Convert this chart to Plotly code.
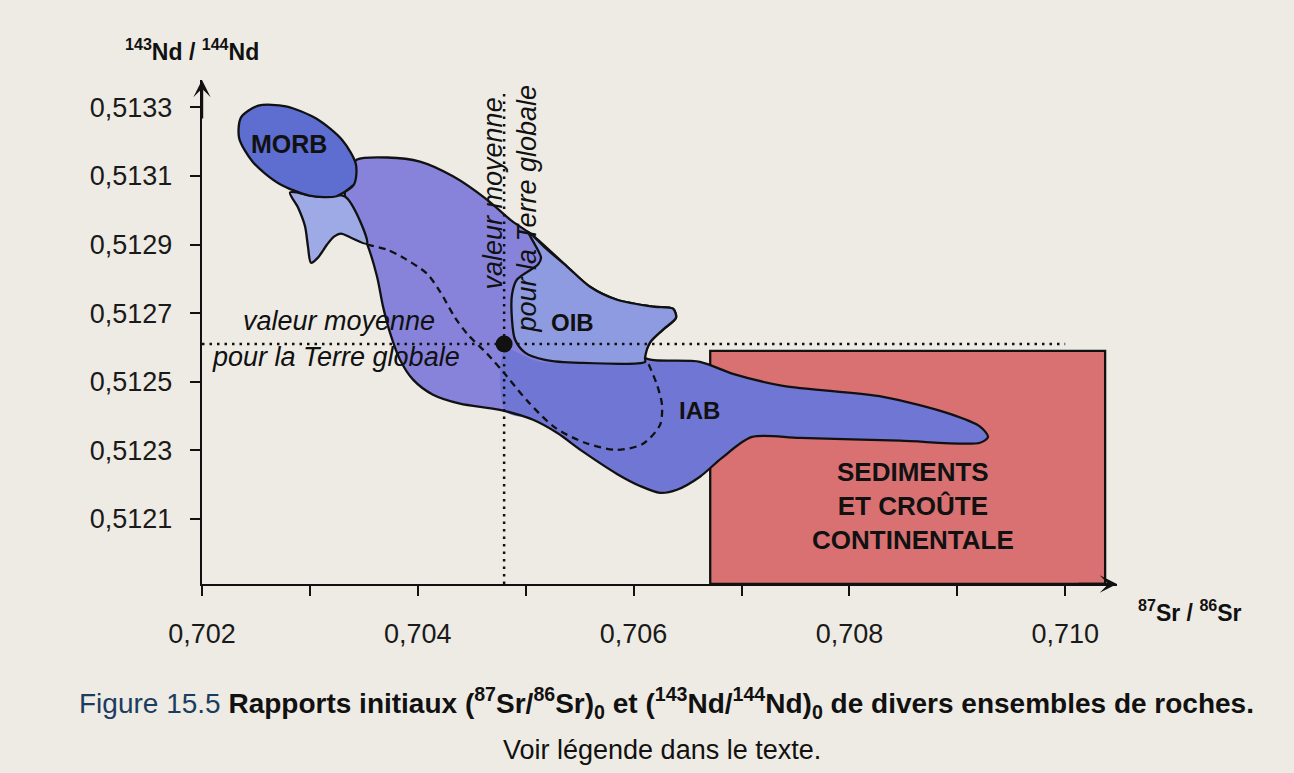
import plotly.graph_objects as go

# ---------------- data ----------------
x_tick_vals = [0.702, 0.704, 0.706, 0.708, 0.710]
x_tick_text = ["0,702", "0,704", "0,706", "0,708", "0,710"]
x_minor_step = 0.001
y_tick_vals = [0.5121, 0.5123, 0.5125, 0.5127, 0.5129, 0.5131, 0.5133]
y_tick_text = ["0,5121", "0,5123", "0,5125", "0,5127", "0,5129", "0,5131", "0,5133"]

x_range = [0.702, 0.71048]
y_range = [0.51191, 0.51338]

bulk_earth_sr = 0.7048
bulk_earth_nd = 0.51261
bulk_v_top = 0.51334
bulk_h_right = 0.7100

sed_sr = [0.70671, 0.71037]
sed_nd = [0.51191, 0.51259]

morb_sr = [0.703408, 0.703248, 0.702994, 0.702708, 0.702471, 0.702344, 0.702362,
           0.702522, 0.702777, 0.703062, 0.703299, 0.703426, 0.703408, 0.703248]
morb_nd = [0.513075, 0.513041, 0.513043, 0.513079, 0.513141, 0.513211, 0.513271,
           0.513305, 0.513303, 0.513267, 0.513205, 0.513135, 0.513075, 0.513041]

tail_sr = [0.702816, 0.702890, 0.702955, 0.702982, 0.703010, 0.703075, 0.703159,
           0.703223, 0.703288, 0.703381, 0.703529, 0.703325, 0.703075, 0.702816]
tail_nd = [0.513052, 0.513008, 0.512953, 0.512894, 0.512847, 0.512862, 0.512900,
           0.512923, 0.512932, 0.512920, 0.512903, 0.513040, 0.513040, 0.513052]

mantle_sr = [0.703325, 0.703372, 0.703437, 0.703715, 0.704020, 0.704326, 0.704641, 0.704855,
             0.705068, 0.705383, 0.705596, 0.705846, 0.706180, 0.706365, 0.706393, 0.706273,
             0.706152, 0.706106, 0.706615, 0.706921, 0.707385, 0.708312, 0.708932, 0.709211,
             0.709285, 0.709211, 0.708469, 0.707542, 0.707097, 0.706819, 0.706615, 0.706402,
             0.706245, 0.706059, 0.705846, 0.705531, 0.705290, 0.705068, 0.704762, 0.704391,
             0.704141, 0.703956, 0.703835, 0.703742, 0.703678, 0.703622, 0.703529, 0.703325]
mantle_nd = [0.513040, 0.513119, 0.513148, 0.513154, 0.513142, 0.513099, 0.513031, 0.512973,
             0.512926, 0.512836, 0.512777, 0.512739, 0.512719, 0.512713, 0.512687, 0.512652,
             0.512614, 0.512570, 0.512558, 0.512523, 0.512488, 0.512456, 0.512406, 0.512369,
             0.512339, 0.512322, 0.512328, 0.512336, 0.512339, 0.512278, 0.512223, 0.512185,
             0.512176, 0.512196, 0.512231, 0.512296, 0.512351, 0.512389, 0.512418, 0.512436,
             0.512462, 0.512506, 0.512564, 0.512643, 0.512719, 0.512807, 0.512903, 0.513040]

oib_sr = [0.705021, 0.705142, 0.705114, 0.704919, 0.704873, 0.704873, 0.704901, 0.704994,
          0.705179, 0.705503, 0.706106, 0.706106, 0.706152, 0.706273, 0.706393, 0.706365,
          0.706180, 0.705846, 0.705596, 0.705383, 0.705179, 0.705021]
oib_nd = [0.512938, 0.512862, 0.512842, 0.512798, 0.512754, 0.512681, 0.512623, 0.512585,
          0.512564, 0.512555, 0.512558, 0.512570, 0.512614, 0.512652, 0.512687, 0.512713,
          0.512719, 0.512739, 0.512777, 0.512836, 0.512891, 0.512938]

iab_start_sr = [0.704808, 0.705133, 0.706106]
iab_start_nd = [0.512593, 0.512558, 0.512558]
iab_end_sr = [0.704808, 0.704808]
iab_end_nd = [0.512415, 0.512593]

trend_sr = [0.703529, 0.703715, 0.703881, 0.704085, 0.704206, 0.704345, 0.704465, 0.704641, 0.704790,
            0.705021, 0.705272, 0.705550, 0.705846, 0.706087, 0.706245, 0.706263, 0.706217, 0.706134]
trend_nd = [0.512900, 0.512885, 0.512859, 0.512815, 0.512763, 0.512687, 0.512637, 0.512582, 0.512529,
            0.512442, 0.512366, 0.512322, 0.512301, 0.512319, 0.512374, 0.512433, 0.512491, 0.512555]

# ---------------- styles ----------------
BG = "#eeebe4"
INK = "#111111"
OUT_W = 2.3
FONT = "Liberation Sans, Arial, Helvetica, sans-serif"
CAP_FONT = "Liberation Sans, Arial, sans-serif"

iab_sr = iab_start_sr + mantle_sr[18:38] + iab_end_sr
iab_nd = iab_start_nd + mantle_nd[18:38] + iab_end_nd

fig = go.Figure()

def poly(x, y, fill=None, line_w=0, line_color=INK):
    fig.add_trace(go.Scatter(
        x=x, y=y, mode="lines", hoverinfo="skip",
        fill="toself" if fill else "none",
        fillcolor=fill if fill else None,
        line=dict(color=line_color if line_w else "rgba(0,0,0,0)", width=line_w if line_w else 0.1,
                  shape="spline", smoothing=0.8),
        showlegend=False))

# sediments rectangle
fig.add_trace(go.Scatter(
    x=[sed_sr[0], sed_sr[1], sed_sr[1], sed_sr[0], sed_sr[0]],
    y=[sed_nd[0], sed_nd[0], sed_nd[1], sed_nd[1], sed_nd[0]],
    mode="lines", fill="toself", fillcolor="#d97173",
    line=dict(color=INK, width=OUT_W), hoverinfo="skip", showlegend=False))

# mantle array (fill), IAB overlay, then outline
poly(mantle_sr, mantle_nd, fill="#8783db")
poly(iab_sr, iab_nd, fill="#7076d3")
poly(mantle_sr, mantle_nd, line_w=OUT_W)
# MORB tail
poly(tail_sr, tail_nd, fill="#9eaae6", line_w=OUT_W)
# OIB
poly(oib_sr, oib_nd, fill="#8e9be1", line_w=OUT_W)
# MORB
poly(morb_sr, morb_nd, fill="#5d6ed0", line_w=OUT_W)

# dashed trend
fig.add_trace(go.Scatter(x=trend_sr, y=trend_nd, mode="lines", hoverinfo="skip",
                         line=dict(color=INK, width=2.3, dash="7px,5px", shape="spline", smoothing=0.8),
                         showlegend=False))

# dotted bulk-earth lines
fig.add_trace(go.Scatter(x=[bulk_earth_sr, bulk_earth_sr], y=[y_range[0], bulk_v_top], mode="lines",
                         hoverinfo="skip", line=dict(color=INK, width=2.5, dash="2.5px,5px"),
                         showlegend=False))
fig.add_trace(go.Scatter(x=[x_range[0], bulk_h_right], y=[bulk_earth_nd, bulk_earth_nd], mode="lines",
                         hoverinfo="skip", line=dict(color=INK, width=2.5, dash="2.5px,5px"),
                         showlegend=False))
fig.add_trace(go.Scatter(x=[bulk_earth_sr], y=[bulk_earth_nd], mode="markers", hoverinfo="skip",
                         marker=dict(color=INK, size=17), showlegend=False))

ann = []
def label(x, y, text, size=25, bold=True, italic=False, angle=0):
    t = text
    if bold:
        t = "<b>" + t + "</b>"
    if italic:
        t = "<i>" + t + "</i>"
    ann.append(dict(x=x, y=y, xref="x", yref="y", text=t, showarrow=False, textangle=angle,
                    font=dict(family=FONT, size=size, color=INK), xanchor="center", yanchor="middle"))

label(0.702806, 0.513192, "MORB", size=25)
label(0.705438, 0.512672, "OIB", size=24)
label(0.706615, 0.512415, "IAB", size=24)
label(0.708590, 0.512138, "SEDIMENTS<br>ET CROÛTE<br>CONTINENTALE", size=26)
label(0.703270, 0.512678, "valeur moyenne", size=27, bold=False, italic=True)
label(0.703242, 0.512573, "pour la Terre globale", size=27, bold=False, italic=True)
label(0.704706, 0.513049, "valeur moyenne", size=27, bold=False, italic=True, angle=-90)
label(0.705012, 0.513005, "pour la Terre globale", size=27, bold=False, italic=True, angle=-90)

# axis titles
ann.append(dict(x=-0.011, y=1.0595, xref="paper", yref="paper", showarrow=False,
                text="<b><sup>143</sup>Nd / <sup>144</sup>Nd</b>",
                font=dict(family=FONT, size=23, color=INK), xanchor="center", yanchor="middle"))
ann.append(dict(x=1.0798, y=-0.0536, xref="paper", yref="paper", showarrow=False,
                text="<b><sup>87</sup>Sr / <sup>86</sup>Sr</b>",
                font=dict(family=FONT, size=23, color=INK), xanchor="center", yanchor="middle"))

# axis arrows
ann.append(dict(x=x_range[0], y=y_range[1], xref="x", yref="y", ax=0, ay=40, text="",
                showarrow=True, arrowhead=3, arrowsize=1.2, arrowwidth=2.4, arrowcolor=INK))
ann.append(dict(x=x_range[1], y=y_range[0], xref="x", yref="y", ax=-40, ay=0, text="",
                showarrow=True, arrowhead=3, arrowsize=1.2, arrowwidth=2.4, arrowcolor=INK))

# caption
ann.append(dict(x=0.508, y=-0.236, xref="paper", yref="paper", showarrow=False,
                text="<span style='color:#1b3d5f'>Figure 15.5</span> <b>Rapports initiaux (<sup>87</sup>Sr/<sup>86</sup>Sr)<sub>0</sub> et (<sup>143</sup>Nd/<sup>144</sup>Nd)<sub>0</sub> de divers ensembles de roches.</b>",
                font=dict(family=CAP_FONT, size=28, color=INK), xanchor="center", yanchor="middle"))
ann.append(dict(x=0.503, y=-0.33, xref="paper", yref="paper", showarrow=False,
                text="Voir légende dans le texte.",
                font=dict(family=CAP_FONT, size=27, color=INK), xanchor="center", yanchor="middle"))

fig.update_layout(
    width=1294, height=773, autosize=False,
    margin=dict(l=202, r=177, t=80, b=189, pad=0),
    paper_bgcolor=BG, plot_bgcolor=BG,
    annotations=ann,
    xaxis=dict(range=x_range, tickvals=x_tick_vals, ticktext=x_tick_text,
               showgrid=False, zeroline=False, showline=True, linecolor=INK, linewidth=2.4,
               ticks="outside", ticklen=10, tickwidth=2.4, tickcolor=INK, ticklabelstandoff=14,
               tickfont=dict(family=FONT, size=27, color="#1a1a1a"),
               minor=dict(tick0=x_range[0], dtick=x_minor_step, ticks="outside", ticklen=10,
                          tickwidth=2.4, tickcolor=INK, showgrid=False)),
    yaxis=dict(range=y_range, tickvals=y_tick_vals, ticktext=y_tick_text,
               showgrid=False, zeroline=False, showline=True, linecolor=INK, linewidth=2.4,
               ticks="outside", ticklen=10, tickwidth=2.4, tickcolor=INK, ticklabelstandoff=12,
               tickfont=dict(family=FONT, size=27, color="#1a1a1a")),
)

fig.write_html("out.html", config={"displayModeBar": False},
               post_script="document.body.style.margin='0px';document.body.style.background='" + BG + "';")
